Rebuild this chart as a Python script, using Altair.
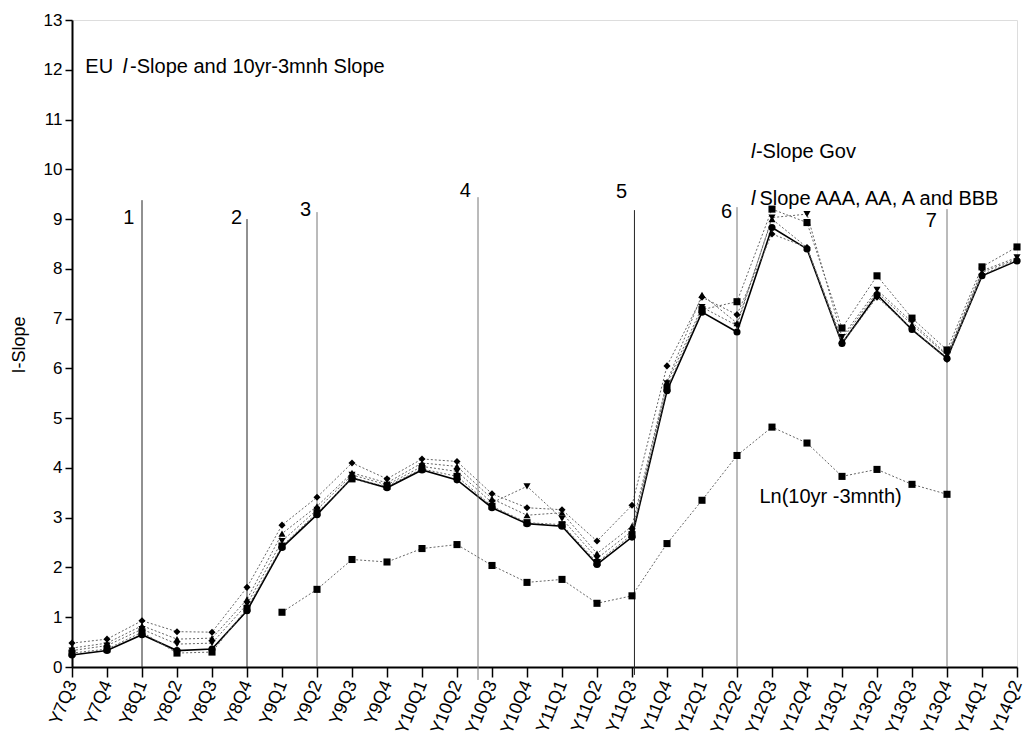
import json
import altair as alt
import pandas as pd

quarters = ["Y7Q3", "Y7Q4", "Y8Q1", "Y8Q2", "Y8Q3", "Y8Q4", "Y9Q1", "Y9Q2", "Y9Q3", "Y9Q4",
            "Y10Q1", "Y10Q2", "Y10Q3", "Y10Q4", "Y11Q1", "Y11Q2", "Y11Q3", "Y11Q4", "Y12Q1",
            "Y12Q2", "Y12Q3", "Y12Q4", "Y13Q1", "Y13Q2", "Y13Q3", "Y13Q4", "Y14Q1", "Y14Q2"]

gov = [0.24, 0.33, 0.65, 0.33, 0.36, 1.13, 2.40, 3.06, 3.80, 3.60, 3.96, 3.76, 3.20, 2.88,
       2.83, 2.06, 2.61, 5.55, 7.13, 6.73, 8.83, 8.40, 6.50, 7.48, 6.78, 6.20, 7.86, 8.16]
bbb_diamond = [0.48, 0.56, 0.93, 0.71, 0.70, 1.60, 2.85, 3.41, 4.10, 3.78, 4.18, 4.13, 3.48, 3.20,
               3.16, 2.53, 3.25, 6.05, 7.43, 7.08, 8.70, 8.43, 6.50, 7.43, 6.80, 6.18, 7.88, 8.18]
aa_up = [0.38, 0.48, 0.83, 0.56, 0.58, 1.36, 2.68, 3.23, 3.90, 3.70, 4.10, 4.03, 3.38, 3.05,
         3.10, 2.28, 2.83, 5.73, 7.48, 6.91, 9.00, 8.43, 6.58, 7.53, 6.88, 6.26, 7.93, 8.20]
a_down = [0.33, 0.43, 0.76, 0.46, 0.48, 1.26, 2.53, 3.16, 3.86, 3.66, 4.03, 3.93, 3.30, 3.63,
          2.98, 2.18, 2.73, 5.70, 7.23, 6.86, 9.03, 9.10, 6.63, 7.58, 6.93, 6.28, 7.96, 8.23]
aaa_square = [0.28, 0.36, 0.70, 0.28, 0.30, 1.18, 2.43, 3.10, 3.78, 3.63, 3.98, 3.83, 3.23, 2.90,
              2.86, 2.10, 2.66, 5.60, 7.18, 7.34, 9.20, 8.93, 6.81, 7.86, 7.01, 6.37, 8.04, 8.44]
ln_slope = [None, None, None, None, None, None, 1.10, 1.56, 2.16, 2.11, 2.38, 2.46, 2.04, 1.70,
            1.76, 1.28, 1.43, 2.48, 3.35, 4.25, 4.82, 4.50, 3.83, 3.97, 3.67, 3.47, None, None]

series_names = ["Gov", "AAA", "AA", "A", "BBB"]
series_shapes = ["circle", "square", "triangle-up", "triangle-down", "diamond"]
series_values = [gov, aaa_square, aa_up, a_down, bbb_diamond]

event_labels = ["1", "2", "3", "4", "5", "6", "7"]
event_x = [2, 5, 7, 11.6, 16.07, 19, 25]
event_top = [9.38, 9.0, 9.14, 9.44, 9.18, 9.24, 9.2]
event_bottom = [0, 0, 0, -0.26, -0.16, 0, 0]
event_dark = [True, True, False, False, True, False, False]
event_label_x = [1.62, 4.70, 6.67, 11.24, 15.70, 18.70, 24.55]
event_label_y = [8.90, 8.90, 9.06, 9.44, 9.42, 9.02, 8.84]

rows = []
for name, vals in zip(series_names, series_values):
    for i, v in enumerate(vals):
        rows.append({"i": i, "v": v, "s": name, "q": quarters[i]})
df = pd.DataFrame(rows)
ln_df = pd.DataFrame([{"i": i, "v": v, "q": quarters[i]} for i, v in enumerate(ln_slope) if v is not None])
ev_df = pd.DataFrame({"x": event_x, "top": event_top, "bot": event_bottom, "dark": event_dark,
                      "lab": event_labels, "lx": event_label_x, "ly": event_label_y})

label_expr = json.dumps(quarters) + "[datum.value]"
xs = alt.Scale(domain=[0, 27], nice=False, zero=False)
ys = alt.Scale(domain=[0, 13], nice=False, zero=False)

x_axis = alt.Axis(values=list(range(28)), labelExpr=label_expr, labelAngle=-68, labelAlign="right",
                  labelBaseline="middle", labelOverlap=False, labelFlush=False, title=None,
                  labelFontSize=18, labelPadding=4, tickSize=10)
y_axis = alt.Axis(values=list(range(14)), title=None, labelFontSize=17, labelPadding=3, tickSize=7)


def xq(field):
    return alt.X(field, type="quantitative", scale=xs, axis=x_axis)


def yq(field):
    return alt.Y(field, type="quantitative", scale=ys, axis=y_axis)


rules = alt.Chart(ev_df).mark_rule(strokeWidth=1).encode(
    x=xq("x"), y=yq("top"), y2="bot:Q",
    color=alt.condition("datum.dark", alt.value("#222222"), alt.value("#777777")))

ev_text = alt.Chart(ev_df).mark_text(fontSize=20, font="Liberation Sans", align="center",
                                      baseline="alphabetic", color="black").encode(
    x=xq("lx"), y=yq("ly"), text="lab:N")

dotted = alt.Chart(df[df.s != "Gov"]).mark_line(strokeDash=[2, 2], strokeWidth=1, color="#666666").encode(
    x=xq("i"), y=yq("v"), detail="s:N")
solid = alt.Chart(df[df.s == "Gov"]).mark_line(strokeWidth=1.6, color="black").encode(x=xq("i"), y=yq("v"))
points = alt.Chart(df).mark_point(filled=True, opacity=1, color="black", size=50).encode(
    x=xq("i"), y=yq("v"),
    shape=alt.Shape("s:N", scale=alt.Scale(domain=series_names, range=series_shapes), legend=None))

ln_line = alt.Chart(ln_df).mark_line(strokeDash=[2, 2], strokeWidth=1, color="#666666").encode(
    x=xq("i"), y=yq("v"))
ln_pts = alt.Chart(ln_df).mark_point(filled=True, opacity=1, color="black", shape="square", size=50).encode(
    x=xq("i"), y=yq("v"))

ann = pd.DataFrame({
    "t": ["EU ", "l", "-Slope and 10yr-3mnh Slope", "l", "-Slope Gov", "l", "Slope AAA, AA, A and BBB",
          "Ln(10yr -3mnth)"],
    "ax": [0.38, 1.45, 1.66, 19.40, 19.54, 19.40, 19.64, 19.64],
    "ay": [11.93, 11.93, 11.93, 10.23, 10.23, 9.28, 9.28, 3.30],
    "it": [False, True, False, True, False, True, False, False],
})
ann_plain = alt.Chart(ann[~ann.it]).mark_text(fontSize=20, font="Liberation Sans", align="left",
                                               baseline="alphabetic", color="black").encode(
    x=xq("ax"), y=yq("ay"), text="t:N")
ann_it = alt.Chart(ann[ann.it]).mark_text(fontSize=20, font="Liberation Sans", fontStyle="italic",
                                           align="left", baseline="alphabetic", color="black").encode(
    x=xq("ax"), y=yq("ay"), text="t:N")

y_title = alt.Chart(pd.DataFrame({"t": ["I-Slope"]})).mark_text(
    fontSize=18, font="Liberation Sans", angle=270, align="center", baseline="middle", color="black"
).encode(x=alt.value(-52), y=alt.value(325), text="t:N")

chart = alt.layer(solid, dotted, ln_line, rules, points, ln_pts, ev_text, ann_plain, ann_it, y_title).properties(
    width=945, height=647,
    autosize=alt.AutoSizeParams(type="none"),
    padding={"left": 72, "top": 20, "right": 6, "bottom": 79},
).configure_view(strokeWidth=0, stroke="transparent").configure(background="white").configure_axis(
    grid=False, domainWidth=2, domainColor="black", tickColor="black", tickWidth=1.5,
    labelColor="black", labelFont="Liberation Sans",
)

chart.save("out.html", embed_options={"renderer": "svg", "actions": False})
